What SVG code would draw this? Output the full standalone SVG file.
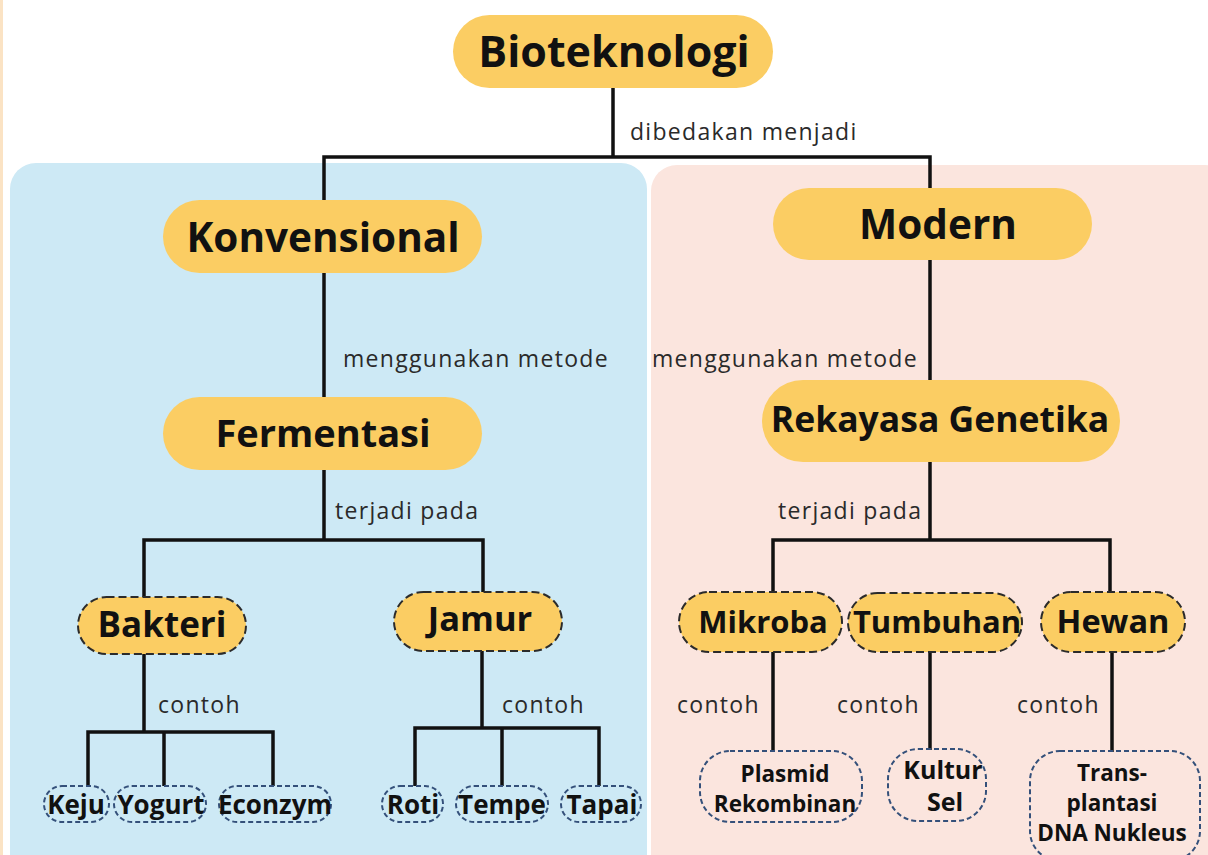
<svg xmlns="http://www.w3.org/2000/svg" width="1208" height="855" viewBox="0 0 1208 855">
<style>
.pill{fill:#fbcd63}
.dpill{fill:#fbcd63;stroke:#2b2b2b;stroke-width:2;stroke-dasharray:8 4}
.leaf{fill:none;stroke:#34507a;stroke-width:2;stroke-dasharray:5 3}
.t{font-family:"Open Sans","Noto Sans",sans-serif;font-weight:bold;fill:#111;text-anchor:middle}
.lbl{font-family:"Open Sans","Noto Sans",sans-serif;font-size:23px;letter-spacing:1.3px;fill:#2a2a2a}
.ln{fill:none;stroke:#111;stroke-width:3.5}
</style>
<rect width="1208" height="855" fill="#fff"/>
<rect x="0" y="0" width="3" height="855" fill="#fbe3c4"/>
<rect x="10" y="163" width="637" height="720" rx="26" fill="#cde9f5"/>
<rect x="651" y="165" width="580" height="720" rx="26" fill="#fbe5de"/>
<g id="connectors">
<path class="ln" d="M613 88V157M324 200V157H930V188"/>
<path class="ln" d="M324 273V397"/>
<path class="ln" d="M930 260V380"/>
<path class="ln" d="M324 470V540M144 598V540H483V592"/>
<path class="ln" d="M144 654V732M88 786V732H273V786M164 732V786"/>
<path class="ln" d="M482 651V728M415 786V728H599V786M502 728V786"/>
<path class="ln" d="M930 462V540M773 592V540H1110V592"/>
<path class="ln" d="M773 652V750"/>
<path class="ln" d="M930 652V750"/>
<path class="ln" d="M1112 652V752"/>
<text class="lbl" x="630" y="140">dibedakan menjadi</text>
<text class="lbl" x="343" y="367">menggunakan metode</text>
<text class="lbl" x="652" y="367">menggunakan metode</text>
<text class="lbl" x="335" y="519">terjadi pada</text>
<text class="lbl" x="778" y="519">terjadi pada</text>
<text class="lbl" x="158" y="713">contoh</text>
<text class="lbl" x="502" y="713">contoh</text>
<text class="lbl" x="677" y="713">contoh</text>
<text class="lbl" x="837" y="713">contoh</text>
<text class="lbl" x="1017" y="713">contoh</text>
</g>
<g id="bioteknologi"><rect class="pill" x="453" y="15" width="320" height="73" rx="36.5"/><text class="t" x="614" y="67" font-size="43">Bioteknologi</text></g>
<g id="konvensional"><rect class="pill" x="163" y="200" width="319" height="73" rx="36.5"/><text class="t" x="323" y="252" font-size="40.5">Konvensional</text></g>
<g id="modern"><rect class="pill" x="773" y="188" width="319" height="72" rx="36"/><text class="t" x="938" y="239" font-size="40.5">Modern</text></g>
<g id="fermentasi"><rect class="pill" x="163" y="397" width="319" height="73" rx="36.5"/><text class="t" x="323" y="447" font-size="38">Fermentasi</text></g>
<g id="rekayasa"><rect class="pill" x="762" y="380" width="358" height="82" rx="41"/><text class="t" x="940" y="432" font-size="35.5">Rekayasa Genetika</text></g>
<g id="bakteri"><rect class="dpill" x="78" y="597" width="168" height="57" rx="28.5"/><text class="t" x="162" y="637" font-size="35">Bakteri</text></g>
<g id="jamur"><rect class="dpill" x="394" y="592" width="168" height="59" rx="29.5"/><text class="t" x="480" y="631" font-size="34.5">Jamur</text></g>
<g id="mikroba"><rect class="dpill" x="679" y="592" width="163" height="60" rx="30"/><text class="t" x="763" y="633" font-size="31">Mikroba</text></g>
<g id="tumbuhan"><rect class="dpill" x="848" y="593" width="174" height="59" rx="29.5"/><text class="t" x="937" y="633" font-size="31">Tumbuhan</text></g>
<g id="hewan"><rect class="dpill" x="1041" y="592" width="144" height="60" rx="30"/><text class="t" x="1113" y="633" font-size="32.5">Hewan</text></g>
<g id="keju"><rect class="leaf" x="44" y="786" width="65" height="36" rx="18"/><text class="t" x="76" y="814" font-size="26">Keju</text></g>
<g id="yogurt"><rect class="leaf" x="114" y="786" width="92" height="36" rx="18"/><text class="t" x="161" y="814" font-size="26">Yogurt</text></g>
<g id="econzym"><rect class="leaf" x="219" y="786" width="112" height="36" rx="18"/><text class="t" x="275" y="814" font-size="26">Econzym</text></g>
<g id="roti"><rect class="leaf" x="382" y="786" width="61" height="36" rx="18"/><text class="t" x="413" y="814" font-size="26">Roti</text></g>
<g id="tempe"><rect class="leaf" x="456" y="786" width="92" height="36" rx="18"/><text class="t" x="502" y="814" font-size="26">Tempe</text></g>
<g id="tapai"><rect class="leaf" x="561" y="786" width="80" height="36" rx="18"/><text class="t" x="602" y="814" font-size="26">Tapai</text></g>
<g id="plasmid"><rect class="leaf" x="700" y="751" width="162" height="71" rx="30"/><text class="t" x="785" y="782" font-size="22.5">Plasmid</text><text class="t" x="785" y="812" font-size="22.5">Rekombinan</text></g>
<g id="kultur"><rect class="leaf" x="888" y="749" width="98" height="72" rx="30"/><text class="t" x="943" y="779" font-size="25">Kultur</text><text class="t" x="945" y="811" font-size="25">Sel</text></g>
<g id="transplantasi"><rect class="leaf" x="1030" y="751" width="170" height="110" rx="30"/><text class="t" x="1112" y="781" font-size="22.5">Trans-</text><text class="t" x="1112" y="811" font-size="22.5">plantasi</text><text class="t" x="1112" y="841" font-size="22.5">DNA Nukleus</text></g>
</svg>
